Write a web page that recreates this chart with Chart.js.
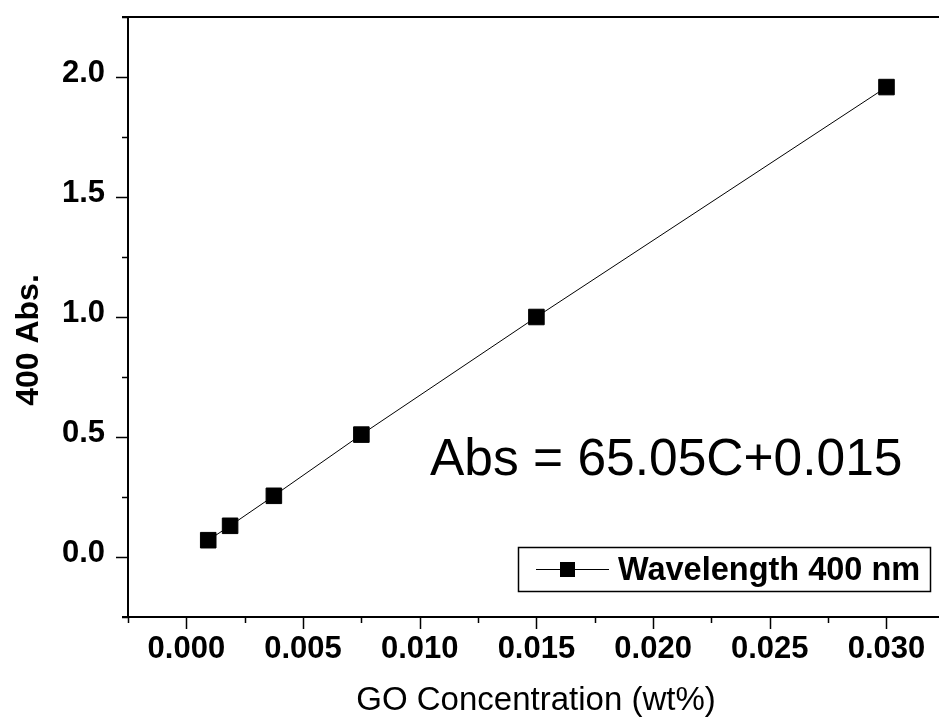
<!DOCTYPE html>
<html>
<head>
<meta charset="utf-8">
<script src="https://cdn.jsdelivr.net/npm/chart.js@4.4.1/dist/chart.umd.min.js"></script>
<style>
    html, body { margin: 0; padding: 0; background: #fff; overflow: hidden; }
    canvas { display: block; }
</style>
</head>
<body>
<canvas id="absChart" width="939" height="727"></canvas>
<script>
// GO concentration (wt%) and absorbance at 400 nm
const concentration = [0.0009375, 0.001875, 0.00375, 0.0075, 0.015, 0.03];
const absorbance = [0.07, 0.13, 0.255, 0.51, 1.0, 1.958];

const xTickValues = [0, 0.005, 0.01, 0.015, 0.02, 0.025, 0.03];
const yTickValues = [0, 0.5, 1.0, 1.5, 2.0];
const xMinorStep = 0.0025;
const yMinorStep = 0.25;

const seriesLabel = 'Wavelength 400 nm';
const fitText = 'Abs = 65.05C+0.015';
const xTitle = 'GO Concentration (wt%)';
const yTitle = '400 Abs.';

const FONT = '"Liberation Sans", Arial, sans-serif';

// frame, ticks, titles, legend and fit equation
// (the right edge of the frame falls just outside the picture)
const framePlugin = {
    id: 'frame',
    afterDraw(chart) {
        const { ctx, chartArea: a, scales: { x, y } } = chart;
        ctx.save();
        ctx.strokeStyle = '#000';
        ctx.lineWidth = 2;
        ctx.beginPath();
        ctx.moveTo(a.left - 6, a.bottom); ctx.lineTo(a.right, a.bottom);
        ctx.moveTo(a.left, a.top); ctx.lineTo(a.left, a.bottom);
        ctx.moveTo(a.left - 6, a.top); ctx.lineTo(a.right, a.top);
        ctx.stroke();

        ctx.lineWidth = 1.5;
        ctx.beginPath();
        for (let v = x.min; v <= x.max + 1e-9; v += xMinorStep) {
            const px = Math.round(x.getPixelForValue(v)) + 0.5;
            const major = Math.abs(v / 0.005 - Math.round(v / 0.005)) < 1e-6;
            ctx.moveTo(px, a.bottom);
            ctx.lineTo(px, a.bottom + (major ? 12 : 6));
        }
        for (let v = y.min; v <= y.max + 1e-9; v += yMinorStep) {
            const py = Math.round(y.getPixelForValue(v)) + 0.5;
            const major = Math.abs(v / 0.5 - Math.round(v / 0.5)) < 1e-6;
            ctx.moveTo(a.left, py);
            ctx.lineTo(a.left - (major ? 12 : 6), py);
        }
        ctx.stroke();

        ctx.fillStyle = '#000';
        ctx.textBaseline = 'alphabetic';

        // x title
        ctx.font = '33px ' + FONT;
        ctx.textAlign = 'center';
        ctx.fillText(xTitle, 536, 710);

        // y title
        ctx.save();
        ctx.translate(38, 340);
        ctx.rotate(-Math.PI / 2);
        ctx.font = 'bold 32px ' + FONT;
        ctx.fillText(yTitle, 0, 0);
        ctx.restore();

        // fit equation
        ctx.font = '51.5px ' + FONT;
        ctx.textAlign = 'left';
        ctx.fillText(fitText, 430, 475);

        // legend
        ctx.lineWidth = 1.5;
        ctx.strokeRect(518.5, 547.5, 412, 44);
        ctx.lineWidth = 1;
        ctx.beginPath();
        ctx.moveTo(536, 569.5); ctx.lineTo(609, 569.5);
        ctx.stroke();
        ctx.fillRect(560, 562, 15, 15);
        ctx.font = 'bold 32.5px ' + FONT;
        ctx.fillText(seriesLabel, 618, 580);
        ctx.restore();
    }
};

new Chart(document.getElementById('absChart'), {
    type: 'line',
    data: {
        datasets: [{
            label: seriesLabel,
            data: concentration.map((c, i) => ({ x: c, y: absorbance[i] })),
            borderColor: '#000',
            borderWidth: 1,
            backgroundColor: '#000',
            pointStyle: 'rect',
            pointRadius: 11,
            pointBorderWidth: 1,
            pointBorderColor: '#000',
            pointBackgroundColor: '#000',
            tension: 0,
            fill: false
        }]
    },
    options: {
        responsive: false,
        animation: false,
        layout: { autoPadding: false, padding: { top: 17, right: 0, left: 0, bottom: 0 } },
        plugins: {
            legend: { display: false },
            tooltip: { enabled: false }
        },
        scales: {
            x: {
                type: 'linear',
                min: -0.0025,
                max: 0.03225,
                grid: { display: false, drawTicks: false },
                border: { display: false },
                afterBuildTicks: s => { s.ticks = xTickValues.map(v => ({ value: v })); },
                afterFit: s => {
                    s.height = 110;
                    s.paddingLeft = 0; s.paddingRight = 0;
                    s.paddingTop = 0; s.paddingBottom = 0;
                },
                ticks: {
                    color: '#000',
                    padding: 14,
                    maxRotation: 0,
                    font: { family: FONT, size: 31, weight: 'bold' },
                    callback: v => v.toFixed(3)
                }
            },
            y: {
                type: 'linear',
                min: -0.25,
                max: 2.25,
                grid: { display: false, drawTicks: false },
                border: { display: false },
                afterBuildTicks: s => { s.ticks = yTickValues.map(v => ({ value: v })); },
                afterFit: s => {
                    s.width = 128;
                    s.paddingLeft = 0; s.paddingRight = 0;
                    s.paddingTop = 0; s.paddingBottom = 0;
                },
                ticks: {
                    color: '#000',
                    padding: 23,
                    // second empty line nudges each label a few px above its tick
                    font: { family: FONT, size: 31, weight: 'bold', lineHeight: '8px' },
                    callback: v => [v.toFixed(1), '']
                }
            }
        }
    },
    plugins: [framePlugin]
});
</script>
</body>
</html>
